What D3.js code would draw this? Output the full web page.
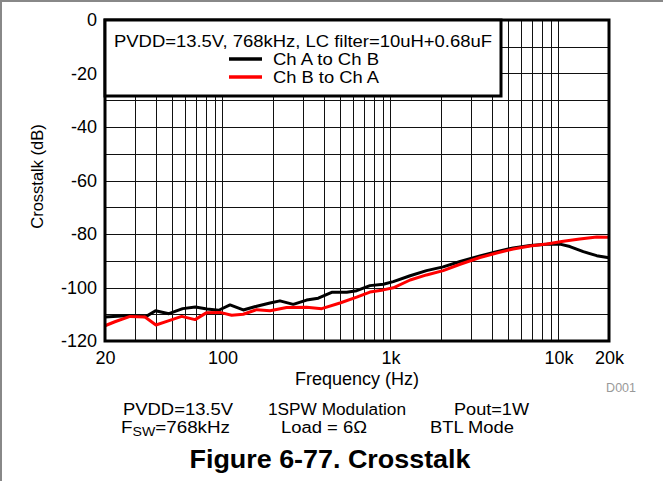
<!DOCTYPE html>
<html>
<head>
<meta charset="utf-8">
<script src="https://cdn.jsdelivr.net/npm/d3@7"></script>
<style>
  html, body { margin: 0; padding: 0; background: #fff; }
  svg { display: block; font-family: "Liberation Sans", Arial, sans-serif; }
</style>
</head>
<body>
<svg id="chart" width="663" height="481"></svg>
<script>
// Crosstalk vs. frequency, two channel directions
const freqA = [20, 28, 35, 40, 48, 58, 69, 81, 95, 111, 133, 160, 192, 220, 264, 317, 372, 447, 549, 630, 755, 907, 1040, 1310, 1640, 2060, 2600, 3410, 4290, 5380, 6780, 8520, 10200, 11700, 14060, 16900, 20000];
const chAtoB = [-111, -110.5, -110.9, -108.7, -109.8, -107.9, -107.3, -108, -108.5, -106.5, -108.4, -107, -105.8, -105, -106.3, -104.7, -104, -101.8, -101.8, -101.2, -99.3, -98.8, -97.8, -95.6, -93.7, -92.3, -90.3, -88.2, -86.6, -85.2, -84.3, -83.8, -83.8, -84.7, -86.6, -88.1, -88.9];

const freqB = [20, 22.9, 28.2, 34.6, 40.2, 47.6, 57.2, 68.7, 80.6, 96.7, 113.5, 133, 160, 192, 241, 317, 390, 501, 630, 755, 907, 1040, 1310, 1640, 2060, 2600, 3410, 4290, 5380, 6780, 8520, 10700, 13400, 16900, 20000];
const chBtoA = [-114.3, -112.8, -110.8, -111, -114, -112.5, -110.8, -112, -109.4, -109.3, -110.4, -110, -108.3, -108.7, -107.5, -107.4, -107.9, -105.8, -103.6, -101.7, -100.9, -100.1, -97.2, -95.3, -93.7, -91.3, -88.8, -87.1, -85.6, -84.5, -83.7, -82.7, -81.9, -81.1, -81.2];

const xTickValues = [20, 100, 1000, 10000, 20000];
const xTickLabels = ["20", "100", "1k", "10k", "20k"];
const yTickValues = [0, -20, -40, -60, -80, -100, -120];

const legendTitle = "PVDD=13.5V, 768kHz, LC filter=10uH+0.68uF";
const seriesNames = ["Ch A to Ch B", "Ch B to Ch A"];
const seriesColors = ["#000000", "#ff0000"];

const svg = d3.select("#chart");
const W = 663, H = 481;
const plot = { left: 105, right: 609, top: 20, bottom: 341 };
const FONT = "Liberation Sans, Arial, sans-serif";

// outer frame (top and left edges)
svg.append("line").attr("x1", 0).attr("x2", W).attr("y1", 1).attr("y2", 1)
  .attr("stroke", "#888").attr("stroke-width", 2);
svg.append("line").attr("x1", 1).attr("x2", 1).attr("y1", 0).attr("y2", H)
  .attr("stroke", "#888").attr("stroke-width", 2);

const x = d3.scaleLog().domain([20, 20000]).range([plot.left, plot.right]);
const y = d3.scaleLinear().domain([-120, 0]).range([plot.bottom, plot.top]);

// grid: log minor lines in x, every 10 dB in y
const gridX = [];
[10, 100, 1000, 10000].forEach(d => { for (let k = 1; k < 10; k++) { const f = d * k; if (f > 20 && f < 20000) gridX.push(f); } });
const gridY = d3.range(-110, 0, 10);

const grid = svg.append("g");
grid.selectAll("line.gx").data(gridX).join("line")
  .attr("x1", d => Math.round(x(d)) + 0.5).attr("x2", d => Math.round(x(d)) + 0.5)
  .attr("y1", plot.top).attr("y2", plot.bottom)
  .attr("stroke", "#111").attr("stroke-width", 1);
grid.selectAll("line.gy").data(gridY).join("line")
  .attr("y1", d => Math.round(y(d)) + 0.5).attr("y2", d => Math.round(y(d)) + 0.5)
  .attr("x1", plot.left).attr("x2", plot.right)
  .attr("stroke", "#111").attr("stroke-width", 1);

// series
const line = d3.line().x(d => x(d[0])).y(d => y(d[1]));
const dataA = freqA.map((f, i) => [f, chAtoB[i]]);
const dataB = freqB.map((f, i) => [f, chBtoA[i]]);
svg.append("path").datum(dataA).attr("d", line)
  .attr("fill", "none").attr("stroke", seriesColors[0]).attr("stroke-width", 3)
  .attr("stroke-linejoin", "round");
svg.append("path").datum(dataB).attr("d", line)
  .attr("fill", "none").attr("stroke", seriesColors[1]).attr("stroke-width", 3)
  .attr("stroke-linejoin", "round");

// plot border
svg.append("rect").attr("x", plot.left).attr("y", plot.top)
  .attr("width", plot.right - plot.left).attr("height", plot.bottom - plot.top)
  .attr("fill", "none").attr("stroke", "#000").attr("stroke-width", 3);

// axes (labels only, ticks hidden)
const xAxis = d3.axisBottom(x).tickValues(xTickValues)
  .tickFormat((d, i) => xTickLabels[i]).tickSize(0).tickPadding(10);
const gx = svg.append("g").attr("transform", `translate(0,${plot.bottom})`).call(xAxis);
gx.select(".domain").remove();
gx.selectAll("text").attr("font-size", 18).attr("fill", "#000").attr("font-family", FONT);

const yAxis = d3.axisLeft(y).tickValues(yTickValues).tickFormat(d => String(d))
  .tickSize(0).tickPadding(8);
const gy = svg.append("g").attr("transform", `translate(${plot.left},0)`).call(yAxis);
gy.select(".domain").remove();
gy.selectAll("text").attr("font-size", 18).attr("fill", "#000").attr("font-family", FONT);

// axis titles
svg.append("text").attr("x", 357).attr("y", 385).attr("text-anchor", "middle")
  .attr("font-size", 18).text("Frequency (Hz)");
svg.append("text").attr("transform", `translate(43,${(plot.top + plot.bottom) / 2 - 4}) rotate(-90)`)
  .attr("text-anchor", "middle").attr("font-size", 16.5).text("Crosstalk (dB)");
svg.append("text").attr("x", 636).attr("y", 392).attr("text-anchor", "end")
  .attr("font-size", 12.5).attr("fill", "#999").text("D001");

// legend box
const lg = svg.append("g");
lg.append("rect").attr("x", plot.left).attr("y", plot.top).attr("width", 396).attr("height", 76)
  .attr("fill", "#fff").attr("stroke", "#000").attr("stroke-width", 3);
lg.append("text").attr("x", 303).attr("y", 47).attr("text-anchor", "middle")
  .attr("font-size", 16).attr("textLength", 378).attr("lengthAdjust", "spacingAndGlyphs")
  .text(legendTitle);
seriesNames.forEach((name, i) => {
  const yy = 59 + i * 18;
  lg.append("line").attr("x1", 229).attr("x2", 262).attr("y1", yy).attr("y2", yy)
    .attr("stroke", seriesColors[i]).attr("stroke-width", 3.5);
  lg.append("text").attr("x", 273).attr("y", yy + 6).attr("font-size", 16)
    .attr("textLength", 106).attr("lengthAdjust", "spacingAndGlyphs").text(name);
});

// test conditions
const cond = svg.append("g").attr("font-size", 16);
const condText = (xx, yy, w, s) => cond.append("text").attr("x", xx).attr("y", yy)
  .attr("textLength", w).attr("lengthAdjust", "spacingAndGlyphs").text(s);
condText(123, 415, 110, "PVDD=13.5V");
condText(268, 415, 138, "1SPW Modulation");
condText(454, 415, 75, "Pout=1W");
const fsw = cond.append("text").attr("x", 121).attr("y", 433)
  .attr("textLength", 109).attr("lengthAdjust", "spacingAndGlyphs");
fsw.append("tspan").text("F");
fsw.append("tspan").attr("font-size", 12).attr("dy", 3).text("SW");
fsw.append("tspan").attr("dy", -3).text("=768kHz");
condText(281, 433, 86, "Load = 6Ω");
condText(430, 433, 84, "BTL Mode");

svg.append("text").attr("x", 330).attr("y", 468).attr("text-anchor", "middle")
  .attr("font-size", 25).attr("font-weight", "bold").attr("font-family", FONT)
  .attr("textLength", 281).attr("lengthAdjust", "spacingAndGlyphs")
  .text("Figure 6-77. Crosstalk");
</script>
</body>
</html>
